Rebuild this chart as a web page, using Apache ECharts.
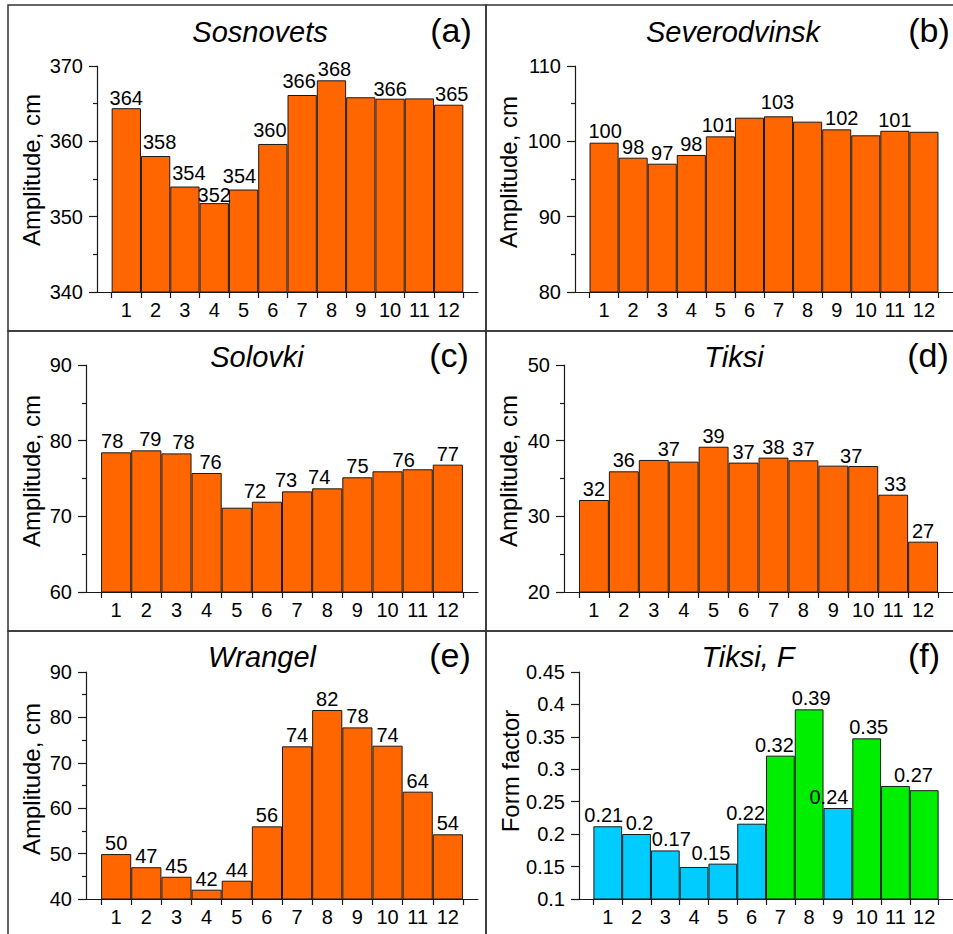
<!DOCTYPE html>
<html>
<head>
<meta charset="utf-8">
<script src="https://cdn.jsdelivr.net/npm/echarts@6/dist/echarts.min.js"></script>
<style>
html,body{margin:0;padding:0;background:#fff;}
#chart{width:953px;height:934px;}
</style>
</head>
<body>
<div id="chart"></div>
<script>
// ---------- data ----------
const months = [1, 2, 3, 4, 5, 6, 7, 8, 9, 10, 11, 12];

const sosnovets        = [364.4, 358.05, 354.0, 351.8, 353.6, 359.65, 366.15, 368.1, 365.85, 365.66, 365.7, 364.86];
const sosnovetsLabeled = [1, 1, 1, 1, 1, 1, 1, 1, 0, 1, 0, 1];

const severodvinsk        = [99.82, 97.83, 97.03, 98.19, 100.66, 103.14, 103.32, 102.61, 101.59, 100.8, 101.4, 101.27];
const severodvinskLabeled = [1, 1, 1, 1, 1, 0, 1, 0, 1, 0, 1, 0];

const solovki        = [78.46, 78.72, 78.32, 75.73, 71.14, 71.93, 73.3, 73.7, 75.16, 75.95, 76.22, 76.83];
const solovkiLabeled = [1, 1, 1, 1, 0, 1, 1, 1, 1, 0, 1, 1];

const tiksi        = [32.16, 35.95, 37.45, 37.23, 39.2, 37.1, 37.76, 37.4, 36.7, 36.65, 32.86, 26.65];
const tiksiLabeled = [1, 1, 1, 0, 1, 1, 1, 1, 0, 1, 1, 1];

const wrangel        = [49.9, 47.0, 44.9, 42.05, 44.03, 56.0, 73.63, 81.63, 77.8, 73.77, 63.64, 54.25];
const wrangelLabeled = [1, 1, 1, 1, 1, 1, 1, 1, 1, 1, 1, 1];

const tiksiF        = [0.2121, 0.2002, 0.1749, 0.1494, 0.1545, 0.2161, 0.321, 0.3924, 0.2403, 0.3477, 0.2743, 0.2678];
const tiksiFLabeled = [1, 1, 1, 0, 1, 1, 1, 1, 1, 1, 1, 0];
const tiksiFGroup   = ['low', 'low', 'low', 'low', 'low', 'low', 'high', 'high', 'low', 'high', 'high', 'high'];

const stationNames = ['Sosnovets', 'Severodvinsk', 'Solovki', 'Tiksi', 'Wrangel', 'Tiksi, F'];
const panelLetters = ['(a)', '(b)', '(c)', '(d)', '(e)', '(f)'];
const yAxisNames   = ['Amplitude, cm', 'Amplitude, cm', 'Amplitude, cm', 'Amplitude, cm', 'Amplitude, cm', 'Form factor'];
const yMins        = [340, 80, 60, 20, 40, 0.1];
const yMaxs        = [370, 110, 90, 50, 90, 0.45];
const yIntervals   = [10, 10, 10, 10, 10, 0.05];

// ---------- styling / layout ----------
const FONT = "'Liberation Sans', Arial, sans-serif";
const ORANGE = '#FF6600';
const groupColors = { low: '#00CCFF', high: '#00EE00' };
const INK = '#1a1a1a';

// label nudges in px [dx, dy] (layout only)
const offA = [[0,1],[4,-3],[4,-3],[0,3],[-4,-3],[-3,-3],[-3,-3],[3,0],0,[0,1],0,[3,0]];
const offB = [[1,-1],0,0,0,[-2,0],0,[-1,-3],0,[5,0],0,0,0];
const offC = [[-4,0],[4,0],[7,0],[4,0],0,[-12,0],[-11,0],[-8,0],0,0,[-14,2],0];
const offD = [0,0,[15,0],0,0,0,0,0,0,[-12,1],[2,0],0];
const offE = [0,0,0,0,0,0,0,0,0,0,0,0];
const offF = [[-4,0],[3,0],[6,0],0,[-12,0],[-6,0],[-6,0],[2,0],[-9,0],[2,0],[18,0],0];

const panels = [
  { values: sosnovets,    labeled: sosnovetsLabeled,    off: offA, grid: { left: 97,  width: 381, top: 66,  height: 226 }, nameGap: 54, namePad: 18, title: [260, 43], letter: [451, 43] },
  { values: severodvinsk, labeled: severodvinskLabeled, off: offB, grid: { left: 575, width: 378, top: 66,  height: 226 }, nameGap: 55, namePad: 14, title: [733, 43], letter: [929, 43] },
  { values: solovki,      labeled: solovkiLabeled,      off: offC, grid: { left: 86,  width: 392, top: 365, height: 227 }, nameGap: 43, namePad: 15, title: [257, 368], letter: [449, 368] },
  { values: tiksi,        labeled: tiksiLabeled,        off: offD, grid: { left: 564, width: 389, top: 365, height: 227 }, nameGap: 44, namePad: 15, title: [734, 368], letter: [928, 368] },
  { values: wrangel,      labeled: wrangelLabeled,      off: offE, grid: { left: 86,  width: 392, top: 672, height: 227 }, nameGap: 43, namePad: 13, title: [262, 668], letter: [450, 668] },
  { values: tiksiF,       labeled: tiksiFLabeled,       off: offF, grid: { left: 579, width: 374, top: 672, height: 227 }, nameGap: 56, namePad: 29, title: [748, 668], letter: [924, 668], groups: tiksiFGroup }
];

const grids = [], xAxes = [], yAxes = [], series = [], titles = [];
const tickEdges = months.map(m => m - 0.5).concat([months[months.length - 1] + 0.5]);

panels.forEach((p, i) => {
  grids.push(Object.assign({ containLabel: false }, p.grid));
  xAxes.push({
    type: 'value', gridIndex: i, min: 0, max: 13,
    axisLine: { show: true, onZero: false, lineStyle: { color: INK, width: 1.2 } },
    axisTick: { show: true, length: 6, customValues: tickEdges, lineStyle: { color: INK, width: 1.2 } },
    axisLabel: { customValues: months, color: '#000', fontSize: 20, fontFamily: FONT, margin: 8 },
    splitLine: { show: false }
  });
  yAxes.push({
    type: 'value', gridIndex: i, min: yMins[i], max: yMaxs[i], interval: yIntervals[i],
    name: yAxisNames[i], nameLocation: 'middle', nameGap: p.nameGap,
    nameTextStyle: { fontSize: 24, fontFamily: FONT, color: '#000', padding: [0, 0, 0, p.namePad] },
    axisLine: { show: true, onZero: false, lineStyle: { color: INK, width: 1.2 } },
    axisTick: { show: true, length: 8, lineStyle: { color: INK, width: 1.2 } },
    minorTick: { show: i < 5, splitNumber: 2, length: 4, lineStyle: { color: INK, width: 1.2 } },
    axisLabel: { color: '#000', fontSize: 20, fontFamily: FONT, margin: 14 },
    splitLine: { show: false }, minorSplitLine: { show: false }
  });
  const isF = i === 5;
  series.push({
    type: 'bar', xAxisIndex: i, yAxisIndex: i, barWidth: '100%',
    data: months.map((m, k) => ({
      value: [m, p.values[k]],
      itemStyle: { color: p.groups ? groupColors[p.groups[k]] : ORANGE, borderColor: INK, borderWidth: 1 },
      label: { show: !!p.labeled[k], offset: p.off[k] ? p.off[k] : [0, 0] }
    })),
    label: {
      position: 'top', distance: 1, color: '#000', fontSize: 20, fontFamily: FONT,
      formatter: prm => isF ? String(parseFloat(prm.value[1].toFixed(2))) : String(Math.round(prm.value[1]))
    },
    itemStyle: { borderColor: INK, borderWidth: 1 },
    emphasis: { disabled: true },
    animation: false
  });
  titles.push({
    text: stationNames[i], left: p.title[0], top: p.title[1] - 26, textAlign: 'center', padding: 0,
    textStyle: { fontSize: 29, fontStyle: 'italic', fontWeight: 'normal', fontFamily: FONT, color: '#000' }
  });
  titles.push({
    text: panelLetters[i], left: p.letter[0], top: p.letter[1] - 30, textAlign: 'center', padding: 0,
    textStyle: { fontSize: 34, fontWeight: 'normal', fontFamily: FONT, color: '#000' }
  });
});

// panel frames
const frameStyle = { stroke: '#333', lineWidth: 1.5, fill: 'none' };
const frames = [
  [8, 5, 478, 326], [486, 5, 480, 326],
  [8, 331, 478, 300], [486, 331, 480, 300],
  [8, 631, 478, 310], [486, 631, 480, 310]
].map(r => ({ type: 'rect', shape: { x: r[0], y: r[1], width: r[2], height: r[3] }, style: frameStyle, silent: true, z: -1 }));

const chart = echarts.init(document.getElementById('chart'), null, { renderer: 'svg' });
chart.setOption({
  backgroundColor: '#fff',
  animation: false,
  title: titles,
  grid: grids,
  xAxis: xAxes,
  yAxis: yAxes,
  series: series,
  graphic: frames
});
</script>
</body>
</html>
